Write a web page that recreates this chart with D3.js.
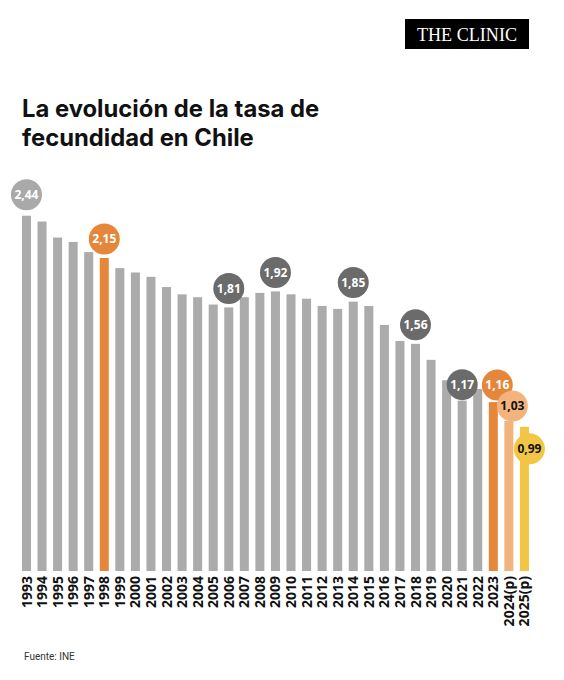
<!DOCTYPE html>
<html>
<head>
<meta charset="utf-8">
<script src="https://cdn.jsdelivr.net/npm/d3@7"></script>
<style>
  body { margin: 0; background: #fff; }
  svg { display: block; }
</style>
</head>
<body>
<div id="grafico"></div>
<script>
// datos (tasa global de fecundidad, INE)
const anios = ["1993","1994","1995","1996","1997","1998","1999","2000","2001","2002","2003",
  "2004","2005","2006","2007","2008","2009","2010","2011","2012","2013","2014","2015","2016",
  "2017","2018","2019","2020","2021","2022","2023","2024(p)","2025(p)"];
const tasas = [2.44, 2.40, 2.29, 2.26, 2.19, 2.15, 2.08, 2.05, 2.02, 1.95, 1.90,
  1.88, 1.83, 1.81, 1.88, 1.91, 1.92, 1.90, 1.87, 1.82, 1.80, 1.85, 1.82, 1.69,
  1.58, 1.56, 1.45, 1.31, 1.17, 1.25, 1.16, 1.03, 0.99];
const etiquetados = ["1993","1998","2006","2009","2014","2018","2021","2023","2024(p)","2025(p)"];

const titulo = ["La evolución de la tasa de", "fecundidad en Chile"];
const fuente = "Fuente: INE";

const width = 564, height = 680;
const base = 571;

const colorBarra = d => {
  if (d === "1998" || d === "2023") return "#e5873b";
  if (d === "2024(p)") return "#f2b37d";
  if (d === "2025(p)") return "#f3c545";
  return "#ababab";
};
const colorBurbuja = d => {
  if (d === "1993") return "#a9a9a9";
  if (["1998","2023","2024(p)","2025(p)"].includes(d)) return colorBarra(d);
  return "#6b6b6b";
};
const textoOscuro = d => d === "2024(p)" || d === "2025(p)";

// pequeños ajustes de posición de las burbujas
const ajusteY = { "1993": -21, "2021": -16, "2023": -17, "2024(p)": -15, "2025(p)": 22 };
const ajusteX = { "2023": 4, "2024(p)": 3.5, "2025(p)": 5 };

const svg = d3.select("#grafico").append("svg")
  .attr("width", width)
  .attr("height", height);

// logo
const logo = svg.append("g");
logo.append("rect")
  .attr("x", 405).attr("y", 19).attr("width", 124).attr("height", 30)
  .attr("fill", "#000");
logo.append("text")
  .attr("x", 417).attr("y", 41)
  .attr("fill", "#fff")
  .attr("textLength", 100)
  .attr("lengthAdjust", "spacingAndGlyphs")
  .style("font-family", "'Liberation Serif', 'DejaVu Serif', serif")
  .style("font-size", "19px")
  .text("THE CLINIC");

// título
svg.append("g").selectAll("text")
  .data(titulo)
  .enter()
  .append("text")
  .attr("x", 22)
  .attr("y", (d, i) => 117 + i * 29)
  .attr("fill", "#111")
  .style("font-family", "Inter, Roboto, sans-serif")
  .style("font-weight", "bold")
  .style("font-size", "23.8px")
  .text(d => d);

const x = d3.scaleBand()
  .domain(anios)
  .range([18.7, 532.2])
  .paddingInner(0.42)
  .paddingOuter(0.21);

const y = d3.scaleLinear()
  .domain([0, 2.44])
  .range([base, 215.7]);

const datos = anios.map((a, i) => ({ anio: a, valor: tasas[i] }));

svg.append("g").selectAll("rect")
  .data(datos)
  .enter()
  .append("rect")
  .attr("x", d => x(d.anio))
  .attr("y", d => y(d.valor))
  .attr("width", x.bandwidth())
  .attr("height", d => base - y(d.valor))
  .attr("fill", d => colorBarra(d.anio));

// eje x con años rotados
const ejeX = svg.append("g")
  .attr("transform", `translate(0,${base})`)
  .call(d3.axisBottom(x).tickSize(0).tickPadding(0));
ejeX.select(".domain").remove();
ejeX.selectAll("text")
  .attr("transform", "rotate(-90)")
  .attr("x", -5)
  .attr("y", 0)
  .attr("dy", "0.36em")
  .attr("text-anchor", "end")
  .attr("fill", "#111")
  .style("font-family", "'Noto Sans', sans-serif")
  .style("font-weight", "bold")
  .style("font-size", "14px");

// burbujas con valores
const burbujas = svg.append("g").selectAll("g")
  .data(datos.filter(d => etiquetados.includes(d.anio)))
  .enter()
  .append("g")
  .attr("transform", d => {
    const cx = x(d.anio) + x.bandwidth() / 2 + (ajusteX[d.anio] || 0);
    const cy = y(d.valor) + (ajusteY[d.anio] !== undefined ? ajusteY[d.anio] : -19);
    return `translate(${cx},${cy})`;
  });

burbujas.append("circle")
  .attr("r", 15.5)
  .attr("fill", d => colorBurbuja(d.anio));

burbujas.append("text")
  .attr("text-anchor", "middle")
  .attr("dy", "0.36em")
  .attr("fill", d => textoOscuro(d.anio) ? "#111" : "#fff")
  .style("font-family", "'Open Sans', sans-serif")
  .style("font-weight", "bold")
  .style("font-size", "12px")
  .text(d => d3.format(".2f")(d.valor).replace(".", ","));

// fuente
svg.append("text")
  .attr("x", 24)
  .attr("y", 660)
  .attr("fill", "#333")
  .style("font-family", "'Roboto', sans-serif")
  .style("font-size", "10px")
  .text(fuente);
</script>
</body>
</html>
